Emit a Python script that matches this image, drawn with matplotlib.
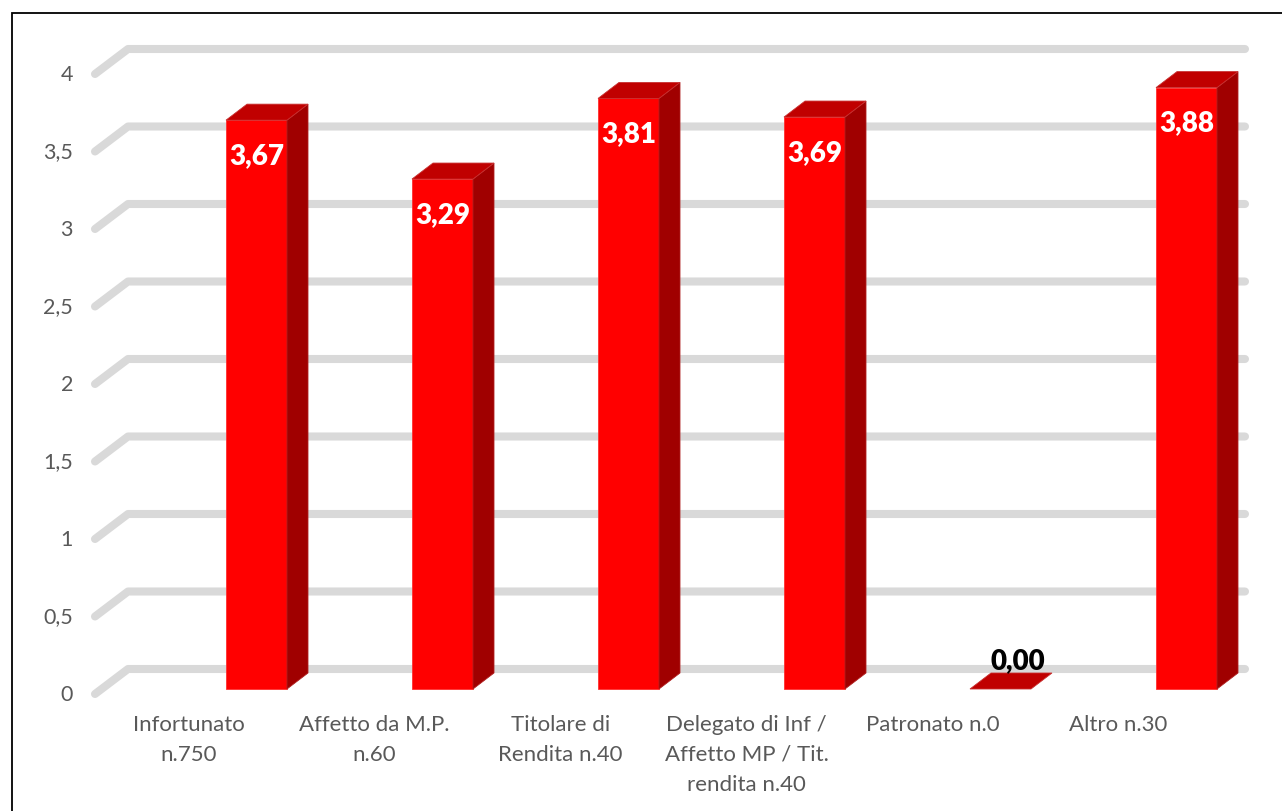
import matplotlib
matplotlib.use("Agg")
import matplotlib.pyplot as plt
from matplotlib.patches import Polygon, Rectangle

# Data
categories = [
    "Infortunato\nn.750",
    "Affetto da M.P.\nn.60",
    "Titolare di\nRendita n.40",
    "Delegato di Inf /\nAffetto MP / Tit.\nrendita n.40",
    "Patronato n.0",
    "Altro n.30",
]
values = [3.67, 3.29, 3.81, 3.69, 0.00, 3.88]
yticks = [0, 0.5, 1, 1.5, 2, 2.5, 3, 3.5, 4]
ytick_labels = ["0", "0,5", "1", "1,5", "2", "2,5", "3", "3,5", "4"]

FONT = ["Lato", "DejaVu Sans"]
GRID = "#D9D9D9"
FRONT = "#FF0000"
SIDE = "#A00000"
TOP = "#C00000"
TEXT = "#595959"

W, H = 1282, 812
fig = plt.figure(figsize=(W / 100, H / 100), dpi=100)
ax = fig.add_axes([0, 0, 1, 1])
ax.set_axis_off()

# axes span the full figure; data coordinates are (category, value) on the bar plane
x0_px, dx_px = 256.5, 186.0
y0_px, dy_px = 690.0, 155.0
ax.set_xlim(-x0_px / dx_px, (W - x0_px) / dx_px)
ax.set_ylim((y0_px - H) / dy_px, y0_px / dy_px)

# oblique depth offsets
bar_w = 61 / dx_px
bar_ddx, bar_ddy = 21 / dx_px, 16 / dy_px
grid_front_x, grid_back_x, grid_right_x = (95 - x0_px) / dx_px, (128 - x0_px) / dx_px, (1245 - x0_px) / dx_px
grid_front_dy, grid_back_dy = -5 / dy_px, 20 / dy_px

# gridlines: short diagonal on the floor side plus the long line on the back wall
for t, lab in zip(yticks, ytick_labels):
    ax.plot([grid_front_x, grid_back_x, grid_right_x],
            [t + grid_front_dy, t + grid_back_dy, t + grid_back_dy],
            color=GRID, lw=5.8, solid_capstyle="round", solid_joinstyle="round", zorder=1)
    ax.text((73 - x0_px) / dx_px, t + grid_front_dy, lab,
            ha="right", va="center", fontsize=15.5, color=TEXT, family=FONT)

# 3D-looking bars
for i, v in enumerate(values):
    l, r = i - bar_w / 2, i + bar_w / 2
    if v > 0:
        ax.add_patch(Polygon([(l, 0), (r, 0), (r, v), (l, v)], closed=True,
                             facecolor=FRONT, edgecolor="#FF3030", lw=0.6, zorder=3))
        ax.add_patch(Polygon([(r, 0), (r + bar_ddx, bar_ddy), (r + bar_ddx, v + bar_ddy), (r, v)],
                             closed=True, facecolor=SIDE, edgecolor="#B02020", lw=0.6, zorder=3))
    ax.add_patch(Polygon([(l, v), (r, v), (r + bar_ddx, v + bar_ddy), (l + bar_ddx, v + bar_ddy)],
                         closed=True, facecolor=TOP, edgecolor="#C83030", lw=0.6, zorder=3))
    label = f"{v:.2f}".replace(".", ",")
    if v > 0.3:
        ax.text(i, v - 0.225, label, ha="center", va="center", fontsize=20,
                fontweight="heavy", color="white", family=FONT, zorder=5)
    else:
        ax.text(i + 0.094, v + 0.187, label, ha="center", va="center", fontsize=20,
                fontweight="heavy", color="black", family=FONT, zorder=5)

# category labels
for i, c in enumerate(categories):
    ax.text(i - 68 / dx_px, -25 / dy_px, c, ha="center", va="top", fontsize=16,
            color=TEXT, family=FONT, linespacing=1.62)

# chart area border
fig.patches.append(Rectangle((11.5 / W, -0.1), 1.2, 1 - 14 / H + 0.1, transform=fig.transFigure,
                             fill=False, edgecolor="black", lw=1.3))

fig.savefig("out.png", dpi=100)
